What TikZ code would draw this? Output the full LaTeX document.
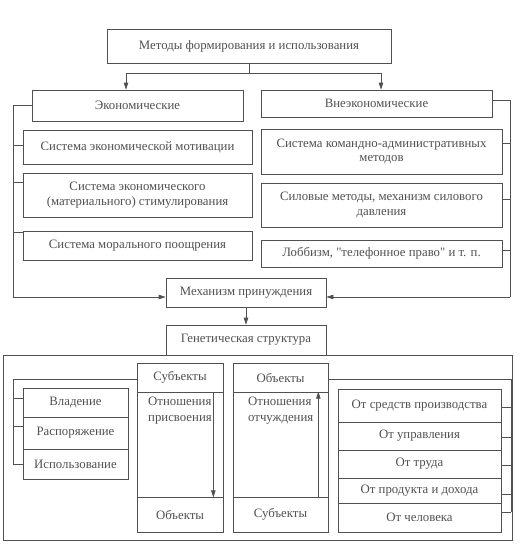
\documentclass[tikz,border=0pt]{standalone}
\usepackage{fontspec}
\setmainfont{Liberation Serif}
\usetikzlibrary{arrows.meta}
\definecolor{ink}{RGB}{80,80,80}
\newcommand{\sq}{{\addfontfeature{Ligatures=TeXOff}"}}
\begin{document}
\begin{tikzpicture}[x=1pt,y=-1pt,
  every node/.style={text=ink,font=\fontsize{12.8}{14.5}\selectfont},
  box/.style={draw=ink,line width=0.7pt,inner sep=0pt,align=center},
  coltext/.style={anchor=north west,align=left,inner sep=0pt,
    font=\fontsize{12.8}{16}\selectfont},
  ln/.style={draw=ink,line width=0.7pt},
  arr/.style={ln,-{Triangle[length=7pt,width=4.5pt]}}]
\useasboundingbox (0,0) rectangle (528,544);
% top
\node[box,minimum width=284,minimum height=34] (top) at (249,46) {Методы формирования и использования};
\node[box,minimum width=211,minimum height=31] (econ) at (137.5,105.5) {Экономические};
\node[box,minimum width=231,minimum height=27] (nonecon) at (376.5,103.5) {Внеэкономические};
% left column
\node[box,minimum width=229,minimum height=34] (L1) at (137.5,147) {Система экономической мотивации};
\node[box,minimum width=229,minimum height=44] (L2) at (137.5,195) {Система экономического\\(материального) стимулирования};
\node[box,minimum width=229,minimum height=29] (L3) at (137.5,245.5) {Система морального поощрения};
% right column
\node[box,minimum width=241,minimum height=45] (R1) at (381.5,151.5) {Система командно-административных\\методов};
\node[box,minimum width=241,minimum height=44] (R2) at (381.5,205) {Силовые методы, механизм силового\\давления};
\node[box,minimum width=241,minimum height=27] (R3) at (381.5,253.5) {Лоббизм, \sq телефонное право\sq{} и т. п.};
% mechanism
\node[box,minimum width=160,minimum height=29] (mech) at (246,292.5) {Механизм принуждения};
\node[box,minimum width=160,minimum height=30] (gen) at (246,340) {Генетическая структура};
% outer frame
\node[box,minimum width=509,minimum height=185] (outer) at (257.5,447.5) {};
% subjects column
\node[box,minimum width=86,minimum height=29] (sH) at (180,377.5) {Субъекты};
\node[box,minimum width=86,minimum height=105] (sB) at (180,444.5) {};
\node[box,minimum width=86,minimum height=35] (sF) at (180,514.5) {Объекты};
\node[coltext] (sT) at (148,397) {Отношения\\присвоения};
% objects column
\node[box,minimum width=95,minimum height=29] (oH) at (280.5,377.5) {Объекты};
\node[box,minimum width=95,minimum height=105] (oB) at (280.5,444.5) {};
\node[box,minimum width=95,minimum height=35] (oF) at (280.5,514.5) {Субъекты};
\node[coltext] (oT) at (248,397) {Отношения\\отчуждения};
% left group
\node[box,minimum width=105,minimum height=29] (G1) at (75.5,402.5) {Владение};
\node[box,minimum width=105,minimum height=32] (G2) at (75.5,433) {Распоряжение};
\node[box,minimum width=105,minimum height=30] (G3) at (75.5,464) {Использование};
% right group
\node[box,minimum width=163,minimum height=33] (H1) at (419.5,405.5) {От средств производства};
\node[box,minimum width=163,minimum height=28] (H2) at (419.5,436) {От управления};
\node[box,minimum width=163,minimum height=28] (H3) at (419.5,464) {От труда};
\node[box,minimum width=163,minimum height=25] (H4) at (419.5,490.5) {От продукта и дохода};
\node[box,minimum width=163,minimum height=29] (H5) at (419.5,517.5) {От человека};
% coordinates
\coordinate (j) at (249,73);
\coordinate (lb) at (13,297);
\coordinate (rb) at (510,297);
\coordinate (gl) at (13,464);
\coordinate (gr) at (511,512);
% connectors top
\draw[ln] (top.south) -- (j);
\draw[arr] (j) -| ([xshift=-11.5pt]econ.north);
\draw[arr] (j) -| ([xshift=4.5pt]nonecon.north);
% left bus
\draw[ln] (econ.west) -| (lb);
\draw[arr] (lb) -- ([yshift=-4.5pt]mech.west);
\draw[ln] ([yshift=2pt]L1.west) -- ([yshift=2pt]L1.west -| lb);
\draw[ln] ([yshift=13pt]L2.west) -- ([yshift=13pt]L2.west -| lb);
\draw[ln] ([yshift=13.5pt]L3.west) -- ([yshift=13.5pt]L3.west -| lb);
% right bus
\draw[ln] ([yshift=3.5pt]nonecon.east) -| (rb);
\draw[arr] (rb) -- ([yshift=-4.5pt]mech.east);
\draw[ln] ([yshift=8.5pt]R1.east) -- ([yshift=8.5pt]R1.east -| rb);
\draw[ln] ([yshift=6pt]R2.east) -- ([yshift=6pt]R2.east -| rb);
\draw[ln] ([yshift=3.5pt]R3.east) -- ([yshift=3.5pt]R3.east -| rb);
% mech to gen
\draw[arr] (mech.south) -- (gen.north);
% inner arrows
\draw[arr] ([xshift=-10pt]sB.north east) -- ([xshift=-10pt]sB.south east);
\draw[arr] ([xshift=-10pt]oB.south east) -- ([xshift=-10pt]oB.north east);
% left group bus
\draw[ln] ([yshift=-1.5pt]sH.west) -| (gl);
\draw[ln] ([yshift=4.5pt]G1.west) -- ([yshift=4.5pt]G1.west -| gl);
\draw[ln] ([yshift=7pt]G2.west) -- ([yshift=7pt]G2.west -| gl);
\draw[ln] (G3.west) -- (gl);
% right group bus
\draw[ln] ([yshift=-1.5pt]oH.east) -| (gr);
\draw[ln] ([yshift=-1.5pt]H1.east) -- ([yshift=-1.5pt]H1.east -| gr);
\draw[ln] ([yshift=-1pt]H2.east) -- ([yshift=-1pt]H2.east -| gr);
\draw[ln] ([yshift=-1pt]H3.east) -- ([yshift=-1pt]H3.east -| gr);
\draw[ln] ([yshift=-3.5pt]H4.east) -- ([yshift=-3.5pt]H4.east -| gr);
\draw[ln] ([yshift=5.5pt]H5.east) -- (gr);
\end{tikzpicture}
\end{document}
